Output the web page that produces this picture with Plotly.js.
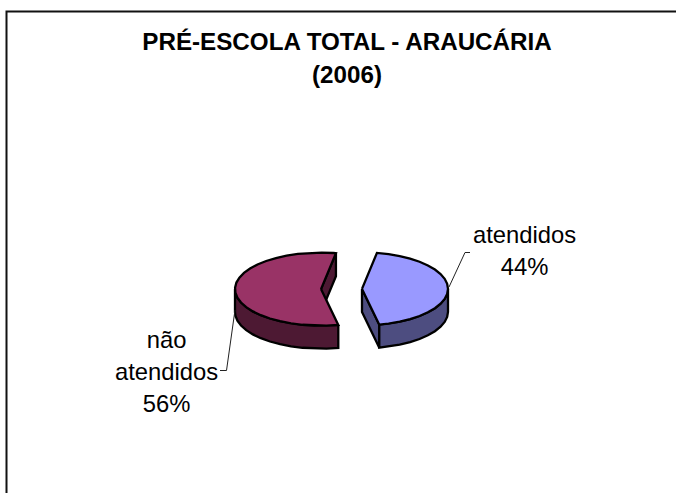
<!DOCTYPE html>
<html>
<head>
<meta charset="utf-8">
<script src="https://cdn.plot.ly/plotly-3.0.1.min.js"></script>
<style>html,body{margin:0;padding:0;background:#fff}#chart{width:676px;height:493px}</style>
</head>
<body>
<div id="chart"></div>
<script>
const categories = ['atendidos', 'não atendidos'];
const labelLines = [['atendidos'], ['não', 'atendidos']];
const values = [44, 56];
const titleLines = ['PRÉ-ESCOLA TOTAL - ARAUCÁRIA', '(2006)'];
const topColors = ['#9999FF', '#993366'];
const sideColors = ['#4D4D80', '#4D1933'];

// pie projection, in the pixel-sized axes of the plot
const pie = {cx: 341.5, cy: 289, rx: 86, ry: 36.5, depth: 23, explode: 20.5, start: 10, step: 8};
const rad = d => d * Math.PI / 180;
const total = values.reduce((a, b) => a + b, 0);

function point(a, ox, oy, down) {
  return [pie.cx + ox + pie.rx * Math.sin(rad(a)),
          pie.cy + oy + (down || 0) - pie.ry * Math.cos(rad(a))];
}
function arc(a1, a2, ox, oy, down) {
  const pts = [];
  for (let a = a1; a < a2; a += pie.step) pts.push(point(a, ox, oy, down));
  pts.push(point(a2, ox, oy, down));
  return pts;
}
function poly(pts, fill) {
  const closed = pts.concat([pts[0]]);
  return {
    type: 'scatter', mode: 'lines', fill: 'toself', fillcolor: fill,
    x: closed.map(p => p[0]), y: closed.map(p => p[1]),
    line: {color: '#000', width: 2.3, shape: 'linear'},
    hoverinfo: 'skip', showlegend: false
  };
}

const traces = [];
let angle = pie.start;
values.forEach((v, i) => {
  const a1 = angle, a2 = angle + v / total * 360;
  angle = a2;
  const mid = (a1 + a2) / 2;
  const ox = pie.explode * Math.sin(rad(mid));
  const oy = -pie.explode * Math.cos(rad(mid)) * pie.ry / pie.rx;
  const centre = [pie.cx + ox, pie.cy + oy];
  const centreDown = [centre[0], centre[1] + pie.depth];
  // visible radial cut faces
  [[a1, a1 - 90], [a2, a2 + 90]].forEach(([edge, normal]) => {
    if (-Math.cos(rad(normal)) > 0) {
      traces.push(poly([centre, point(edge, ox, oy), point(edge, ox, oy, pie.depth), centreDown], sideColors[i]));
    }
  });
  // visible outer wall: the front half of the ellipse
  const ranges = [[90, 270], [450, 630]];
  ranges.forEach(([lo, hi]) => {
    const s = Math.max(a1, lo), e = Math.min(a2, hi);
    if (e > s) {
      traces.push(poly(arc(s, e, ox, oy).concat(arc(s, e, ox, oy, pie.depth).reverse()), sideColors[i]));
    }
  });
  // top surface
  traces.push(poly([centre].concat(arc(a1, a2, ox, oy)), topColors[i]));
});

const labelFont = {family: 'Liberation Sans, Arial, sans-serif', size: 24.6, color: '#000'};
const inner = px => t => '<span style="font-size:' + px + 'px">' + t + '</span>';
const labelSpan = inner(23.8), titleSpan = inner(24.2);
const pct = v => Math.round(v / total * 100) + '%';

const layout = {
  width: 676, height: 493,
  margin: {l: 0, r: 0, t: 0, b: 0},
  paper_bgcolor: '#fff', plot_bgcolor: '#fff',
  showlegend: false,
  title: {
    text: titleLines.map(t => titleSpan('<b>' + t + '</b>')).join('<br>'),
    font: {family: 'Liberation Sans, Arial, sans-serif', size: 25.8, color: '#000'},
    x: 347 / 676, xanchor: 'center', xref: 'paper',
    y: 1 - 49.5 / 493, yanchor: 'middle', yref: 'container'
  },
  xaxis: {range: [0, 676], visible: false, fixedrange: true},
  yaxis: {range: [493, 0], visible: false, fixedrange: true},
  annotations: [
    {x: 524.5, y: 250, text: labelLines[0].concat(pct(values[0])).map(labelSpan).join('<br>')},
    {x: 166, y: 371, text: labelLines[1].concat(pct(values[1])).map(labelSpan).join('<br>')}
  ].map(a => Object.assign(a, {xref: 'x', yref: 'y', showarrow: false, font: labelFont, xanchor: 'center', yanchor: 'middle', align: 'center'})),
  shapes: [
    {type: 'path', xref: 'x', yref: 'y', path: 'M 6.5 493 L 6.5 11.5 L 676 11.5', line: {color: '#111', width: 2}},
    {type: 'path', xref: 'x', yref: 'y', path: 'M 449 287 L 465 252.5 L 470 252.5', line: {color: '#222', width: 1}},
    {type: 'path', xref: 'x', yref: 'y', path: 'M 235 310 L 226.5 370.5 L 220 370.5', line: {color: '#222', width: 1}}
  ]
};

Plotly.newPlot('chart', traces, layout, {displayModeBar: false, staticPlot: true});
</script>
</body>
</html>
